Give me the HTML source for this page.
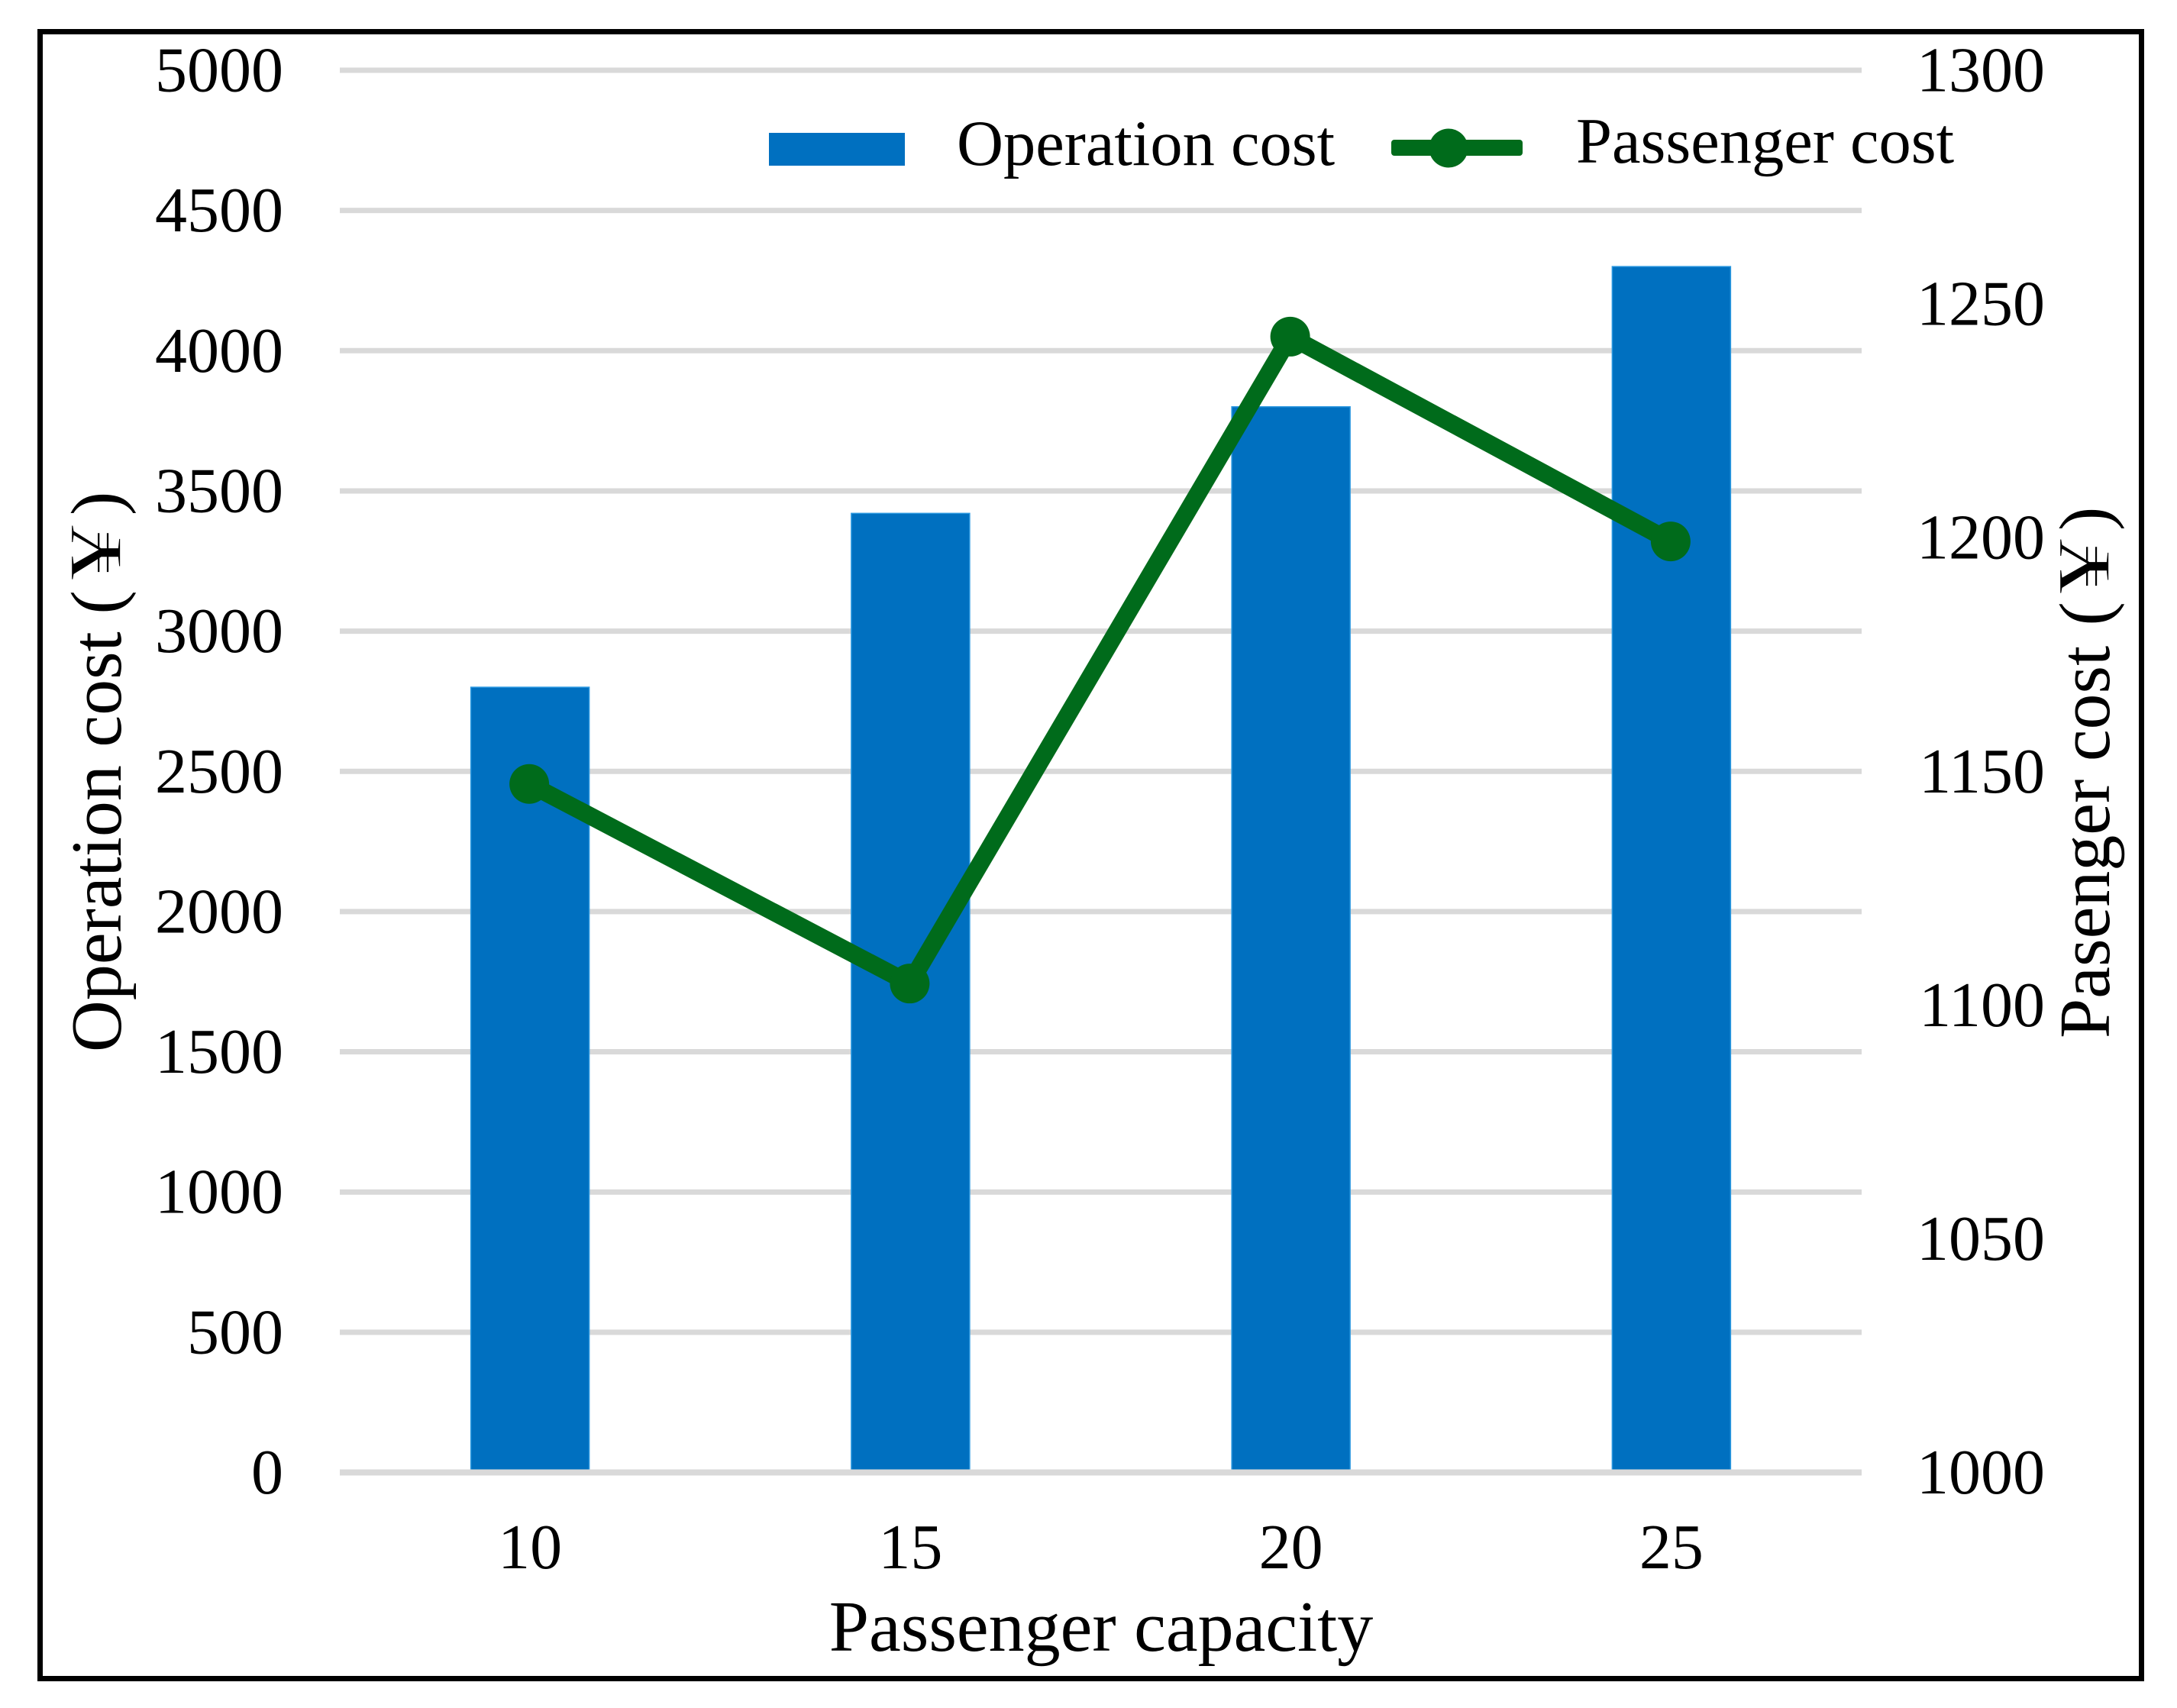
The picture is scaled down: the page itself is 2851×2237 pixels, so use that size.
<!DOCTYPE html>
<html lang="en">
<head>
<meta charset="utf-8">
<title>Operation and passenger cost by passenger capacity</title>
<style>
  html, body { margin: 0; padding: 0; background: #fff; }
  svg { display: block; }
  text { font-family: "Liberation Serif", "Noto Serif CJK SC", serif; fill: #000; }
  .yen { stroke: #ffffff; stroke-width: 1.6px; }
</style>
</head>
<body>
<svg id="chart" xmlns="http://www.w3.org/2000/svg" width="2851" height="2237" viewBox="0 0 2851 2237">
  <rect x="0" y="0" width="2851" height="2237" fill="#ffffff"/>
  <rect x="52.5" y="41.5" width="2752" height="2157" fill="none" stroke="#000000" stroke-width="7"/>
  <g id="grid"></g>
  <g id="bars"></g>
  <g id="baseline"></g>
  <g id="line"></g>
  <g id="ticks"></g>

  <g font-size="94">
    <text transform="translate(158 1378) rotate(-90)">Operation cost</text>
    <text transform="translate(158 804.5) rotate(-90)">(</text>
    <text class="yen" transform="translate(158 760) rotate(-90) scale(1.55 1.05)">¥</text>
    <text transform="translate(158 675) rotate(-90)">)</text>
  </g>
  <g font-size="94">
    <text transform="translate(2762 1360) rotate(-90)">Pasenger cost</text>
    <text transform="translate(2762 819.5) rotate(-90)">(</text>
    <text class="yen" transform="translate(2762 778) rotate(-90) scale(1.55 1.05)">¥</text>
    <text transform="translate(2762 695) rotate(-90)">)</text>
  </g>
  <text x="1442" y="2162" font-size="94" text-anchor="middle">Passenger capacity</text>

  <g>
    <rect x="1007" y="174" width="178" height="43" fill="#0070c0"/>
    <text x="1253" y="216" font-size="84.5">Operation cost</text>
    <rect x="1822" y="183" width="172" height="21" rx="4" fill="#006b1b"/>
    <circle cx="1897" cy="194" r="25.5" fill="#006b1b"/>
    <text x="2064" y="213" font-size="84.5">Passenger cost</text>
  </g>
</svg>
<script>
const categories = ["10", "15", "20", "25"];
const operationCost = [2800, 3420, 3800, 4300];
const passengerCost = [1147.3, 1104.6, 1243, 1199.2];
const leftTicks = [0, 500, 1000, 1500, 2000, 2500, 3000, 3500, 4000, 4500, 5000];
const rightTicks = [1000, 1050, 1100, 1150, 1200, 1250, 1300];

const NS = "http://www.w3.org/2000/svg";
const PLOT = { left: 445, right: 2438, top: 92, bottom: 1928.5 };
const LEFT_MIN = leftTicks[0];
const LEFT_MAX = leftTicks[leftTicks.length - 1];
const RIGHT_MIN = rightTicks[0];
const RIGHT_MAX = rightTicks[rightTicks.length - 1];
const LINE_X_OFFSET = -1;

function xCat(i) {
  return PLOT.left + (i + 0.5) * (PLOT.right - PLOT.left) / categories.length;
}
function yLeft(v) {
  return PLOT.bottom - (v - LEFT_MIN) / (LEFT_MAX - LEFT_MIN) * (PLOT.bottom - PLOT.top);
}
function yRight(v) {
  return PLOT.bottom - (v - RIGHT_MIN) / (RIGHT_MAX - RIGHT_MIN) * (PLOT.bottom - PLOT.top);
}
function make(tag, parent) {
  const el = document.createElementNS(NS, tag);
  parent.appendChild(el);
  return el;
}

const gridGroup = document.getElementById("grid");
const barGroup = document.getElementById("bars");
const baselineGroup = document.getElementById("baseline");
const lineGroup = document.getElementById("line");
const tickGroup = document.getElementById("ticks");

leftTicks.forEach(function (t) {
  const g = make("line", t === LEFT_MIN ? baselineGroup : gridGroup);
  
  
  g.setAttribute("x1", PLOT.left);
  g.setAttribute("x2", PLOT.right);
  g.setAttribute("y1", yLeft(t));
  g.setAttribute("y2", yLeft(t));
  g.setAttribute("stroke", "#d9d9d9");
  g.setAttribute("stroke-width", t === LEFT_MIN ? 8 : 7);

  const label = make("text", tickGroup);
  
  
  label.setAttribute("x", 371);
  label.setAttribute("y", yLeft(t) + 27.5);
  label.setAttribute("font-size", 84);
  label.setAttribute("text-anchor", "end");
  label.textContent = t;
});

rightTicks.forEach(function (t) {
  const label = make("text", tickGroup);
  
  
  label.setAttribute("x", 2678);
  label.setAttribute("y", yRight(t) + 27.5);
  label.setAttribute("font-size", 84);
  label.setAttribute("text-anchor", "end");
  label.textContent = t;
});

const BAR_WIDTH = 155;
categories.forEach(function (c, i) {
  const bar = make("rect", barGroup);
  
  
  bar.setAttribute("x", xCat(i) - BAR_WIDTH / 2);
  bar.setAttribute("y", yLeft(operationCost[i]));
  bar.setAttribute("width", BAR_WIDTH);
  bar.setAttribute("height", yLeft(LEFT_MIN) - yLeft(operationCost[i]));
  bar.setAttribute("fill", "#0070c0");
  bar.setAttribute("stroke", "#2b98e0");
  bar.setAttribute("stroke-width", 1.5);

  const label = make("text", tickGroup);
  
  
  label.setAttribute("x", xCat(i));
  label.setAttribute("y", 2054);
  label.setAttribute("font-size", 84);
  label.setAttribute("text-anchor", "middle");
  label.textContent = c;
});

const path = make("polyline", lineGroup);


path.setAttribute("points", passengerCost.map(function (v, i) {
  return (xCat(i) + LINE_X_OFFSET) + "," + yRight(v);
}).join(" "));
path.setAttribute("fill", "none");
path.setAttribute("stroke", "#006b1b");
path.setAttribute("stroke-width", 23);
path.setAttribute("stroke-linejoin", "round");

passengerCost.forEach(function (v, i) {
  const dot = make("circle", lineGroup);
  
  
  dot.setAttribute("cx", xCat(i) + LINE_X_OFFSET);
  dot.setAttribute("cy", yRight(v));
  dot.setAttribute("r", 26);
  dot.setAttribute("fill", "#006b1b");
});
</script>
</body>
</html>
